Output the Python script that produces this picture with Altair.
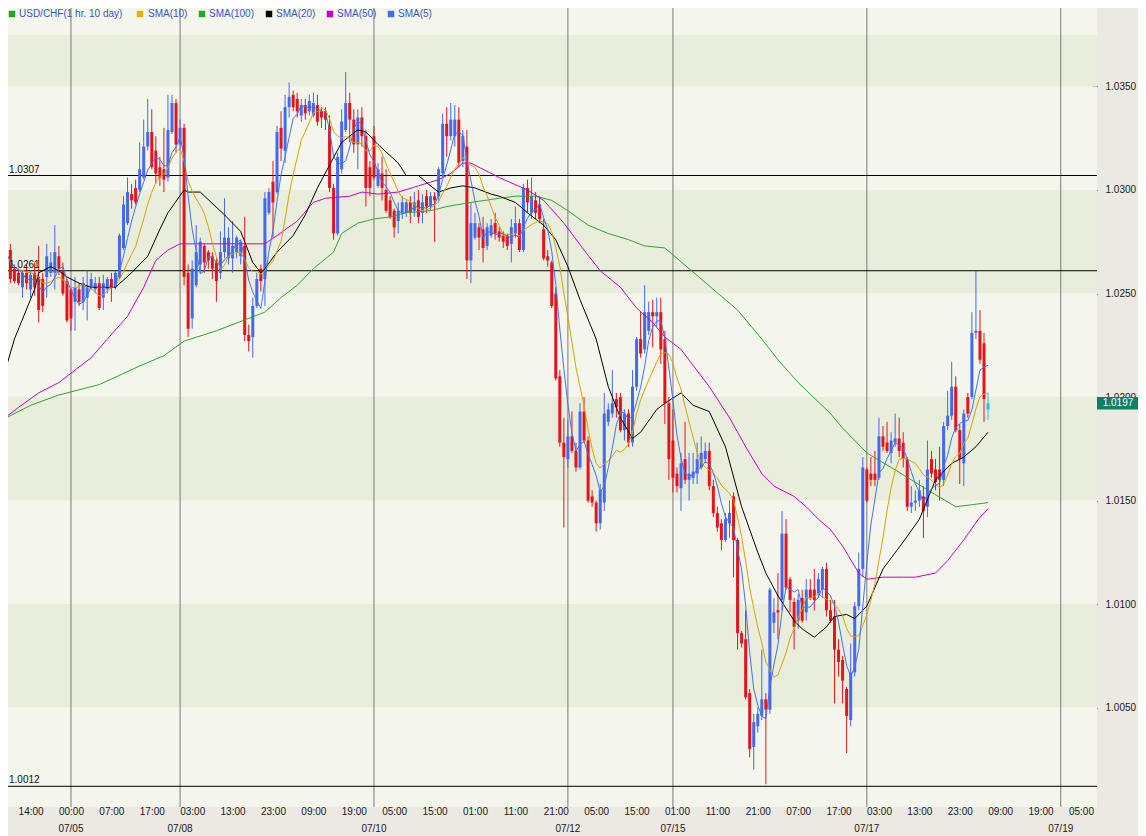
import altair as alt
import pandas as pd

# ---------------- data ----------------
opens = [1.0273,1.0265,1.0271,1.0262,1.0260,1.0253,1.0260,1.0252,1.0260,1.0258,
         1.0257,1.0258,1.0260,1.0260,1.0268,1.0261,1.0256,1.0252,1.0246,1.0252,
         1.0246,1.0248,1.0253,1.0252,1.0255,1.0248,1.0252,1.0257,1.0253,1.0258,
         1.0272,1.0284,1.0298,1.0301,1.0300,1.0306,1.0321,1.0328,1.0319,1.0311,
         1.0310,1.0306,1.0328,1.0342,1.0322,1.0330,1.0260,1.0238,1.0254,1.0264,
         1.0273,1.0270,1.0268,1.0265,1.0260,1.0270,1.0267,1.0267,1.0270,1.0268,
         1.0273,1.0230,1.0229,1.0244,1.0262,1.0257,1.0289,1.0304,1.0299,1.0330,
         1.0319,1.0340,1.0346,1.0344,1.0336,1.0341,1.0338,1.0336,1.0341,1.0338,
         1.0338,1.0331,1.0301,1.0279,1.0310,1.0329,1.0342,1.0334,1.0322,1.0335,
         1.0326,1.0311,1.0326,1.0302,1.0308,1.0300,1.0295,1.0290,1.0285,1.0289,
         1.0289,1.0294,1.0290,1.0295,1.0289,1.0297,1.0292,1.0297,1.0297,1.0308,
         1.0332,1.0326,1.0326,1.0334,1.0314,1.0321,1.0266,1.0277,1.0282,1.0281,
         1.0273,1.0278,1.0284,1.0280,1.0278,1.0278,1.0274,1.0279,1.0284,1.0271,
         1.0301,1.0289,1.0295,1.0293,1.0281,1.0268,1.0265,1.0250,1.0210,1.0178,
         1.0170,1.0181,1.0174,1.0166,1.0193,1.0179,1.0152,1.0149,1.0139,1.0149,
         1.0188,1.0192,1.0199,1.0200,1.0184,1.0192,1.0178,1.0205,1.0228,1.0223,
         1.0232,1.0241,1.0239,1.0241,1.0228,1.0197,1.0179,1.0163,1.0156,1.0170,
         1.0160,1.0161,1.0163,1.0166,1.0170,1.0174,1.0157,1.0144,1.0139,1.0131,
         1.0139,1.0152,1.0131,1.0086,1.0083,1.0057,1.0031,1.0041,1.0046,1.0054,
         1.0049,1.0091,1.0097,1.0102,1.0134,1.0112,1.0101,1.0092,1.0103,1.0096,
         1.0107,1.0107,1.0105,1.0107,1.0117,1.0097,1.0094,1.0078,1.0073,1.0059,
         1.0044,1.0067,1.0099,1.0117,1.0165,1.0163,1.0163,1.0161,1.0181,1.0178,
         1.0173,1.0178,1.0180,1.0178,1.0170,1.0147,1.0149,1.0150,1.0152,1.0147,
         1.0170,1.0165,1.0165,1.0160,1.0186,1.0191,1.0205,1.0184,1.0168,1.0200,
         1.0200,1.0231,1.0232,1.0226,1.0194]
highs = [1.0277,1.0276,1.0274,1.0264,1.0262,1.0261,1.0264,1.0261,1.0265,1.0273,
         1.0260,1.0274,1.0270,1.0283,1.0273,1.0265,1.0257,1.0253,1.0258,1.0255,
         1.0258,1.0261,1.0260,1.0258,1.0258,1.0259,1.0258,1.0260,1.0261,1.0279,
         1.0297,1.0306,1.0303,1.0305,1.0323,1.0334,1.0344,1.0339,1.0326,1.0316,
         1.0330,1.0346,1.0346,1.0344,1.0334,1.0332,1.0264,1.0266,1.0283,1.0277,
         1.0274,1.0271,1.0270,1.0267,1.0280,1.0296,1.0282,1.0285,1.0278,1.0276,
         1.0287,1.0235,1.0248,1.0260,1.0264,1.0299,1.0301,1.0314,1.0331,1.0338,
         1.0346,1.0352,1.0348,1.0347,1.0344,1.0344,1.0346,1.0347,1.0346,1.0340,
         1.0340,1.0336,1.0303,1.0318,1.0339,1.0357,1.0347,1.0339,1.0339,1.0340,
         1.0329,1.0314,1.0331,1.0313,1.0316,1.0310,1.0297,1.0291,1.0294,1.0297,
         1.0295,1.0297,1.0299,1.0300,1.0298,1.0300,1.0299,1.0299,1.0311,1.0337,
         1.0340,1.0342,1.0341,1.0340,1.0329,1.0329,1.0294,1.0289,1.0284,1.0287,
         1.0284,1.0286,1.0289,1.0282,1.0280,1.0279,1.0286,1.0292,1.0286,1.0303,
         1.0305,1.0306,1.0299,1.0297,1.0286,1.0271,1.0266,1.0253,1.0213,1.0190,
         1.0189,1.0193,1.0178,1.0197,1.0200,1.0181,1.0155,1.0150,1.0158,1.0202,
         1.0197,1.0213,1.0202,1.0202,1.0194,1.0194,1.0213,1.0229,1.0241,1.0254,
         1.0246,1.0247,1.0248,1.0248,1.0232,1.0200,1.0194,1.0166,1.0173,1.0188,
         1.0173,1.0173,1.0178,1.0181,1.0178,1.0178,1.0160,1.0147,1.0141,1.0144,
         1.0150,1.0154,1.0132,1.0087,1.0097,1.0059,1.0047,1.0050,1.0078,1.0057,
         1.0108,1.0103,1.0115,1.0145,1.0141,1.0113,1.0103,1.0105,1.0107,1.0112,
         1.0112,1.0117,1.0115,1.0118,1.0120,1.0102,1.0102,1.0083,1.0075,1.0060,
         1.0081,1.0101,1.0125,1.0171,1.0166,1.0171,1.0174,1.0190,1.0186,1.0188,
         1.0183,1.0192,1.0190,1.0183,1.0171,1.0157,1.0155,1.0160,1.0157,1.0179,
         1.0174,1.0170,1.0176,1.0188,1.0203,1.0217,1.0210,1.0187,1.0194,1.0202,
         1.0241,1.0261,1.0242,1.0231,1.0202]
lows = [1.0265,1.0264,1.0255,1.0255,1.0254,1.0248,1.0252,1.0248,1.0249,1.0236,
        1.0241,1.0248,1.0258,1.0252,1.0259,1.0249,1.0236,1.0232,1.0232,1.0244,
        1.0242,1.0237,1.0252,1.0250,1.0242,1.0242,1.0250,1.0246,1.0252,1.0257,
        1.0271,1.0283,1.0291,1.0293,1.0299,1.0305,1.0319,1.0310,1.0303,1.0302,
        1.0299,1.0304,1.0327,1.0318,1.0319,1.0254,1.0229,1.0233,1.0253,1.0260,
        1.0260,1.0262,1.0257,1.0246,1.0257,1.0267,1.0264,1.0260,1.0267,1.0264,
        1.0227,1.0222,1.0219,1.0243,1.0251,1.0244,1.0288,1.0277,1.0298,1.0314,
        1.0313,1.0335,1.0338,1.0335,1.0333,1.0334,1.0336,1.0335,1.0331,1.0330,
        1.0329,1.0299,1.0276,1.0278,1.0308,1.0328,1.0323,1.0318,1.0310,1.0321,
        1.0292,1.0297,1.0305,1.0301,1.0295,1.0289,1.0286,1.0277,1.0279,1.0286,
        1.0287,1.0284,1.0287,1.0284,1.0284,1.0289,1.0290,1.0275,1.0294,1.0306,
        1.0316,1.0324,1.0321,1.0311,1.0311,1.0257,1.0255,1.0276,1.0271,1.0265,
        1.0271,1.0277,1.0276,1.0275,1.0272,1.0271,1.0265,1.0277,1.0270,1.0270,
        1.0289,1.0286,1.0286,1.0284,1.0266,1.0263,1.0243,1.0208,1.0176,1.0137,
        1.0166,1.0173,1.0164,1.0165,1.0178,1.0149,1.0147,1.0135,1.0136,1.0145,
        1.0186,1.0190,1.0190,1.0183,1.0179,1.0176,1.0176,1.0203,1.0219,1.0221,
        1.0230,1.0224,1.0234,1.0216,1.0187,1.0160,1.0154,1.0154,1.0145,1.0158,
        1.0150,1.0158,1.0158,1.0165,1.0168,1.0155,1.0142,1.0135,1.0126,1.0130,
        1.0132,1.0113,1.0078,1.0079,1.0054,1.0026,1.0020,1.0038,1.0044,1.0013,
        1.0047,1.0086,1.0083,1.0097,1.0107,1.0096,1.0078,1.0088,1.0091,1.0092,
        1.0102,1.0097,1.0103,1.0103,1.0094,1.0091,1.0052,1.0065,1.0052,1.0028,
        1.0041,1.0065,1.0097,1.0113,1.0149,1.0157,1.0157,1.0160,1.0174,1.0173,
        1.0168,1.0176,1.0171,1.0166,1.0145,1.0144,1.0145,1.0147,1.0132,1.0142,
        1.0161,1.0155,1.0150,1.0157,1.0184,1.0189,1.0183,1.0158,1.0157,1.0190,
        1.0199,1.0228,1.0216,1.0188,1.0189]
closes = [1.0268,1.0271,1.0257,1.0256,1.0255,1.0260,1.0255,1.0259,1.0253,1.0242,
          1.0244,1.0268,1.0265,1.0270,1.0262,1.0250,1.0237,1.0238,1.0253,1.0246,
          1.0255,1.0254,1.0257,1.0255,1.0243,1.0255,1.0257,1.0253,1.0260,1.0278,
          1.0293,1.0299,1.0295,1.0294,1.0310,1.0321,1.0328,1.0311,1.0308,1.0306,
          1.0305,1.0329,1.0342,1.0322,1.0330,1.0258,1.0233,1.0262,1.0270,1.0275,
          1.0265,1.0266,1.0262,1.0256,1.0270,1.0277,1.0277,1.0273,1.0277,1.0275,
          1.0230,1.0227,1.0244,1.0257,1.0256,1.0296,1.0299,1.0294,1.0328,1.0320,
          1.0340,1.0345,1.0340,1.0338,1.0341,1.0337,1.0343,1.0342,1.0333,1.0335,
          1.0334,1.0301,1.0279,1.0316,1.0333,1.0342,1.0334,1.0322,1.0335,1.0326,
          1.0301,1.0301,1.0306,1.0310,1.0301,1.0290,1.0287,1.0282,1.0290,1.0294,
          1.0294,1.0289,1.0294,1.0287,1.0294,1.0292,1.0297,1.0295,1.0310,1.0332,
          1.0326,1.0334,1.0334,1.0313,1.0326,1.0266,1.0284,1.0284,1.0277,1.0272,
          1.0282,1.0283,1.0279,1.0277,1.0275,1.0273,1.0282,1.0284,1.0271,1.0301,
          1.0294,1.0297,1.0289,1.0286,1.0267,1.0266,1.0244,1.0209,1.0178,1.0171,
          1.0181,1.0174,1.0166,1.0193,1.0179,1.0150,1.0149,1.0139,1.0155,1.0192,
          1.0194,1.0197,1.0195,1.0184,1.0192,1.0178,1.0205,1.0228,1.0221,1.0241,
          1.0241,1.0239,1.0241,1.0223,1.0197,1.0170,1.0161,1.0157,1.0168,1.0160,
          1.0163,1.0164,1.0170,1.0173,1.0174,1.0157,1.0144,1.0137,1.0131,1.0141,
          1.0144,1.0131,1.0086,1.0081,1.0055,1.0030,1.0043,1.0047,1.0054,1.0049,
          1.0107,1.0096,1.0096,1.0134,1.0108,1.0102,1.0089,1.0102,1.0092,1.0107,
          1.0103,1.0102,1.0112,1.0117,1.0097,1.0092,1.0078,1.0072,1.0063,1.0046,
          1.0067,1.0099,1.0117,1.0166,1.0150,1.0160,1.0160,1.0181,1.0176,1.0174,
          1.0179,1.0180,1.0174,1.0170,1.0147,1.0149,1.0150,1.0155,1.0145,1.0165,
          1.0163,1.0159,1.0160,1.0186,1.0191,1.0205,1.0184,1.0170,1.0192,1.0192,
          1.0231,1.0232,1.0218,1.0199,1.0197]

sma20_idx = [0,3,8,9,12,14,16,19,22,27,28,32,36,39,41,45,46,49,55,59,
             62,64,65,68,72,75,78,81,84,88,90,93,98,100,103,106,108,111,114,117,
             121,123,127,130,134,137,140,143,147,150,153,156,158,162,164,168,171,175,179,183,
             187,189,192,196,198,201,204,206,209,211,214,218,223,227,231,235,238,241,244]
sma20_val = [1.0208,1.0228,1.0252,1.0260,1.0263,1.0261,1.0258,1.0255,1.0253,1.0253,
             1.0253,1.0260,1.0268,1.0281,1.0289,1.0300,1.0299,1.0299,1.0288,1.0280,
             1.0265,1.0260,1.0262,1.0270,1.0278,1.0288,1.0301,1.0312,1.0323,1.0329,
             1.0328,1.0322,1.0313,1.0307,1.0307,1.0302,1.0299,1.0301,1.0302,1.0301,
             1.0298,1.0297,1.0294,1.0289,1.0283,1.0276,1.0263,1.0247,1.0228,1.0205,
             1.0190,1.0180,1.0183,1.0194,1.0197,1.0202,1.0196,1.0193,1.0176,1.0147,
             1.0125,1.0115,1.0104,1.0092,1.0088,1.0084,1.0089,1.0094,1.0095,1.0093,
             1.0099,1.0117,1.0130,1.0141,1.0160,1.0168,1.0171,1.0176,1.0183]
sma50_idx = [0,4,9,14,18,22,26,31,35,38,41,44,48,57,65,68,73,77,80,86,
             89,93,98,103,108,111,114,116,119,123,130,134,139,144,148,153,157,161,164,168,
             175,180,184,188,191,196,199,202,205,208,212,214,218,223,226,231,234,238,242,244]
sma50_val = [1.0189,1.0195,1.0202,1.0207,1.0213,1.0219,1.0228,1.0239,1.0253,1.0266,
             1.0271,1.0274,1.0274,1.0274,1.0274,1.0278,1.0285,1.0294,1.0296,1.0297,
             1.0299,1.0298,1.0299,1.0302,1.0305,1.0308,1.0313,1.0313,1.0310,1.0306,
             1.0300,1.0295,1.0284,1.0271,1.0261,1.0253,1.0243,1.0236,1.0229,1.0223,
             1.0205,1.0190,1.0176,1.0163,1.0157,1.0152,1.0147,1.0141,1.0136,1.0128,
             1.0115,1.0112,1.0113,1.0113,1.0113,1.0115,1.0121,1.0131,1.0142,1.0146]
sma100_idx = [0,7,14,24,34,40,45,53,61,65,69,73,77,82,84,88,92,96,100,106,
              110,116,123,127,132,136,140,145,150,155,159,164,173,182,188,192,197,205,208,214,
              220,225,230,236,240,244]
sma100_val = [1.0189,1.0196,1.0201,1.0206,1.0215,1.0220,1.0227,1.0232,1.0238,1.0241,
              1.0248,1.0254,1.0262,1.0270,1.0279,1.0284,1.0286,1.0287,1.0289,1.0290,
              1.0292,1.0294,1.0296,1.0297,1.0297,1.0295,1.0290,1.0283,1.0279,1.0276,
              1.0273,1.0272,1.0257,1.0242,1.0228,1.0218,1.0207,1.0192,1.0185,1.0173,
              1.0166,1.0160,1.0154,1.0147,1.0148,1.0149]

tick_labels = ["14:00","00:00","07:00","17:00","03:00","13:00","23:00","09:00","19:00",
               "05:00","15:00","01:00","11:00","21:00","05:00","15:00","01:00","11:00",
               "21:00","07:00","17:00","03:00","13:00","23:00","09:00","19:00","05:00"]
first_tick = 7
tick_step = 10
date_idx = [17, 44, 92, 140, 166, 214, 262]
date_text = ["07/05", "07/08", "07/10", "07/12", "07/15", "07/17", "07/19"]
level_values = [1.0307, 1.0261, 1.0012]
level_text = ["1.0307", "1.0261", "1.0012"]
band_lo = [1.0000, 1.0050, 1.0100, 1.0150, 1.0200, 1.0250, 1.0300, 1.0350, 1.0375]
band_hi = [1.0050, 1.0100, 1.0150, 1.0200, 1.0250, 1.0300, 1.0350, 1.0375, 1.0400]
band_shade = ["light", "dark", "light", "dark", "light", "dark", "light", "dark", "light"]
price_ticks = [1.0050, 1.0100, 1.0150, 1.0200, 1.0250, 1.0300, 1.0350]
last_price = 1.0197
legend_names = ["USD/CHF(1 hr.  10 day)", "SMA(10)", "SMA(100)", "SMA(20)", "SMA(50)", "SMA(5)"]
legend_colors = ["#22a822", "#d8b800", "#22a822", "#000000", "#c800c8", "#3a72ee"]

# ---------------- styling ----------------
W, H = 1089, 799
FONT = "Liberation Sans"
UP, DOWN, CURRENT = "#4468ee", "#e5141c", "#33b6e8"
C_SMA5, C_SMA10, C_SMA20, C_SMA50, C_SMA100 = "#3f73f0", "#d9a300", "#000000", "#cc00cc", "#2fa52f"
LIGHT, DARK = "#f4f6ec", "#e9eddc"
GRAY_BG = "#ece9e3"

xs = alt.Scale(domain=[1.41, 270.97], nice=False, zero=False, padding=0)
ys = alt.Scale(domain=[1.0002, 1.03879], nice=False, zero=False, padding=0)

label_arr = "[" + ",".join("'%s'" % t for t in tick_labels) + "]"
x_axis = alt.Axis(values=[first_tick + tick_step * k for k in range(len(tick_labels))],
                  labelExpr=label_arr + "[round((datum.value - %d) / %d)]" % (first_tick, tick_step),
                  orient="bottom", offset=-10, tickSize=6, tickColor="#333333", domain=False,
                  grid=False, labelFontSize=10, labelFont=FONT, labelColor="#1a1a1a",
                  labelPadding=3, labelOverlap=False, labelFlush=False, title=None)
y_axis = alt.Axis(values=price_ticks, format=".4f", orient="right", offset=-5, tickSize=5,
                  tickColor="#333333", domain=False, grid=False, labelFontSize=10, labelFont=FONT,
                  labelColor="#1a1a1a", labelPadding=8, title=None)

def X(field):
    return alt.X(field, type="quantitative", scale=xs, axis=x_axis)

def Y(field):
    return alt.Y(field, type="quantitative", scale=ys, axis=y_axis)

n = len(opens)
df = pd.DataFrame({"i": list(range(n)), "open": opens, "high": highs,
                   "low": lows, "close": closes})
df["dir"] = ["current" if k == n - 1 else ("up" if c >= o else "down")
             for k, (o, c) in enumerate(zip(opens, closes))]

band_df = pd.DataFrame({"lo": band_lo, "hi": band_hi, "shade": band_shade})
bands = [alt.Chart(band_df).transform_filter(alt.datum.shade == s).mark_rect(color=c, clip=True).encode(
    x=alt.value(0), x2=alt.value(W), y=Y("lo"), y2=alt.Y2("hi")) for s, c in (("light", LIGHT), ("dark", DARK))]

date_df = pd.DataFrame({"i": date_idx, "t": date_text})
date_lines = alt.Chart(date_df).mark_rule(color="#7a7a7a", strokeWidth=1, clip=True).encode(x=X("i"))
date_labels = alt.Chart(date_df).mark_text(font=FONT, fontSize=10, color="#1a1a1a", baseline="middle").encode(
    x=X("i"), y=alt.value(H + 22), text="t:N")

lev_df = pd.DataFrame({"v": level_values, "t": level_text})
level_lines = alt.Chart(lev_df).mark_rule(color="#000000", strokeWidth=1).encode(y=Y("v"))
level_labels = alt.Chart(lev_df).mark_text(font=FONT, fontSize=10, color="#111111", align="left",
                                           baseline="bottom", dy=-1).encode(
    x=alt.value(1), y=Y("v"), text="t:N")

candles = []
for d, c in (("up", UP), ("down", DOWN), ("current", CURRENT)):
    sub = alt.Chart(df).transform_filter(alt.datum.dir == d)
    candles.append(sub.mark_rule(color=c, strokeWidth=1, clip=True).encode(x=X("i"), y=Y("low"), y2="high"))
    candles.append(sub.mark_bar(color=c, size=3, clip=True).encode(x=X("i"), y=Y("open"), y2="close"))

sma5 = alt.Chart(df).transform_window(sma="mean(close)", frame=[-4, 0], sort=[alt.SortField("i")]).mark_line(
    color=C_SMA5, strokeWidth=1, clip=True).encode(x=X("i"), y=Y("sma"))
sma10 = alt.Chart(df).transform_window(sma="mean(close)", frame=[-9, 0], sort=[alt.SortField("i")]).mark_line(
    color=C_SMA10, strokeWidth=1, clip=True).encode(x=X("i"), y=Y("sma"))

def sma_line(idx, vals, col):
    return alt.Chart(pd.DataFrame({"i": idx, "v": vals})).mark_line(color=col, strokeWidth=1, clip=True).encode(
        x=X("i"), y=Y("v"))

sma20 = sma_line(sma20_idx, sma20_val, C_SMA20)
sma50 = sma_line(sma50_idx, sma50_val, C_SMA50)
sma100 = sma_line(sma100_idx, sma100_val, C_SMA100)

lp_df = pd.DataFrame({"v": [last_price], "t": ["%.4f" % last_price]})
lp_box = alt.Chart(lp_df).mark_point(shape="M-1,-0.3H1V0.3H-1Z", filled=True, opacity=1,
                                     color="#0f7f66", size=42 * 42).encode(x=alt.value(W + 21), y=Y("v"))
lp_text = alt.Chart(lp_df).mark_text(font=FONT, fontSize=10, color="#ffffff", baseline="middle").encode(
    x=alt.value(W + 21), y=Y("v"), text="t:N")

# legend drawn as marks at the top of the plot
sq_x = [4, 132, 194, 261, 322, 383]
tx_x = [11, 140, 201, 268, 329, 390]
legend_layers = []
for k, (nm, col) in enumerate(zip(legend_names, legend_colors)):
    ldf = pd.DataFrame({"t": [nm]})
    legend_layers.append(alt.Chart(ldf).mark_square(size=42, color=col, opacity=1).encode(
        x=alt.value(sq_x[k]), y=alt.value(6)))
    legend_layers.append(alt.Chart(ldf).mark_text(font=FONT, fontSize=10, color="#3557cf", align="left",
                                                  baseline="middle").encode(
        x=alt.value(tx_x[k]), y=alt.value(6), text="t:N"))

chart = alt.layer(*bands, date_lines, level_lines, *candles, sma100, sma50, sma20, sma10, sma5,
                  level_labels, date_labels, lp_box, lp_text, *legend_layers).properties(
    width=W, height=H,
    padding={"left": 0, "top": 0, "right": 41, "bottom": 29},
    autosize=alt.AutoSizeParams(type="none"),
    background=GRAY_BG,
).configure_view(stroke=None, fill=LIGHT)

chart.save("out.html", embed_options={"renderer": "svg", "actions": False})
